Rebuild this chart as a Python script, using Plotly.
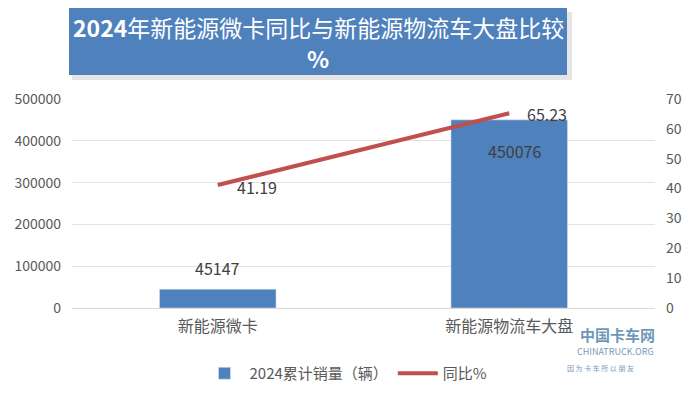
import plotly.graph_objects as go

categories = ["新能源微卡", "新能源物流车大盘"]
sales_2024 = [45147, 450076]
yoy_pct = [41.19, 65.23]
title_lines = ["<b>2024</b>年新能源微卡同比与新能源物流车大盘比较", "<b>%</b>"]

FONT = "Noto Sans CJK SC, Liberation Sans, sans-serif"
BLUE = "#4F81BD"
RED = "#C0504D"

# plot area in pixels (for paper-coordinate helpers)
L, R, T, B = 72, 655, 99, 308
W, H = R - L, B - T


def px(x):
    return (x - L) / W


def py(y):
    return (B - y) / H


fig = go.Figure()
fig.add_trace(go.Bar(
    x=categories, y=sales_2024, name="2024累计销量（辆）",
    marker_color=BLUE, width=0.4, yaxis="y",
))
fig.add_trace(go.Scatter(
    x=categories, y=yoy_pct, name="同比%", mode="lines",
    line=dict(color=RED, width=4), yaxis="y2",
))

lab_font = dict(size=16, color="#404040", family=FONT)
fig.add_annotation(x=categories[0], y=sales_2024[0], xref="x", yref="y",
                   text=str(sales_2024[0]), showarrow=False, yshift=21, font=lab_font)
fig.add_annotation(x=categories[1], y=sales_2024[1], xref="x", yref="y",
                   text=str(sales_2024[1]), showarrow=False, xshift=5, yshift=-31, font=lab_font)
fig.add_annotation(x=categories[0], y=yoy_pct[0], xref="x", yref="y2",
                   text=f"{yoy_pct[0]:.2f}", showarrow=False, xshift=39, yshift=-2, font=lab_font)
fig.add_annotation(x=categories[1], y=yoy_pct[1], xref="x", yref="y2",
                   text=f"{yoy_pct[1]:.2f}", showarrow=False, xshift=38, yshift=-1, font=lab_font)

# title box with shadow
fig.add_shape(type="rect", xref="paper", yref="paper",
              x0=px(72), x1=px(572), y0=py(80), y1=py(12),
              fillcolor="rgba(0,0,0,0.10)", line=dict(width=0), layer="above")
fig.add_shape(type="rect", xref="paper", yref="paper",
              x0=px(69), x1=px(567), y0=py(75), y1=py(8),
              fillcolor=BLUE, line=dict(width=0), layer="above")
for txt, yy in zip(title_lines, [27, 58]):
    fig.add_annotation(xref="paper", yref="paper", x=px(318), y=py(yy),
                       xanchor="center", yanchor="middle",
                       text=txt, showarrow=False,
                       font=dict(size=23, color="white", family=FONT))

# watermark approximation
wm_color = "rgba(60,115,160,0.75)"
fig.add_annotation(xref="paper", yref="paper", x=px(617), y=py(334),
                   xanchor="center", yanchor="middle",
                   text="<b>中国卡车网</b>", showarrow=False,
                   font=dict(size=15, color=wm_color, family=FONT))
fig.add_annotation(xref="paper", yref="paper", x=px(615), y=py(351),
                   xanchor="center", yanchor="middle",
                   text="CHINATRUCK.ORG", showarrow=False,
                   font=dict(size=9, color=wm_color, family=FONT))
fig.add_annotation(xref="paper", yref="paper", x=px(600), y=py(368),
                   xanchor="center", yanchor="middle",
                   text="因 为 卡 车 所 以 朋 友", showarrow=False,
                   font=dict(size=7, color=wm_color, family=FONT))

fig.update_layout(
    width=695, height=395,
    margin=dict(l=L, r=695 - R, t=T, b=395 - B, autoexpand=False),
    paper_bgcolor="white", plot_bgcolor="white",
    font=dict(family=FONT, size=14, color="#595959"),
    showlegend=True,
    legend=dict(orientation="h", x=px(346), xanchor="center", y=py(357), yanchor="top",
                font=dict(size=15, color="#595959"), itemwidth=40),
    xaxis=dict(showline=True, linecolor="#D9D9D9", tickfont=dict(size=16, color="#595959"),
               ticks="", showgrid=False, automargin=False, ticklabelstandoff=4),
    yaxis=dict(range=[0, 500000], dtick=100000, tickformat="d", showgrid=True,
               gridcolor="#E3E3E3", zeroline=False, ticks="", ticklabelstandoff=10,
               tickfont=dict(size=14, color="#595959"), automargin=False),
    yaxis2=dict(range=[0, 70], dtick=10, overlaying="y", side="right", showgrid=False,
                zeroline=False, ticks="", ticklabelstandoff=10,
                tickfont=dict(size=14, color="#595959"), automargin=False),
)

fig.write_html("out.html", config={"displayModeBar": False},
               post_script="document.body.style.margin='0';")
